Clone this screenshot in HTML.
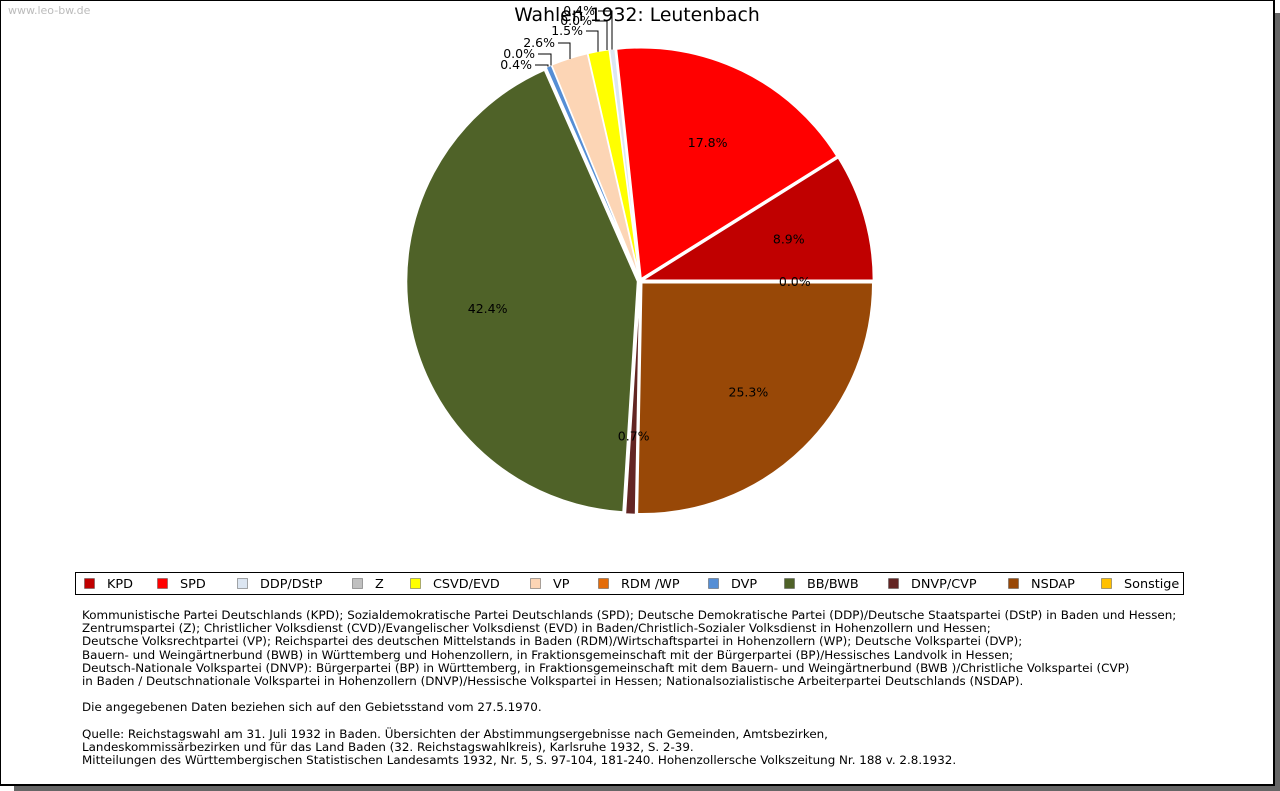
<!DOCTYPE html>
<html><head><meta charset="utf-8">
<style>
body{margin:0;width:1280px;height:791px;background:#fff;position:relative;overflow:hidden;font-family:"DejaVu Sans","Liberation Sans",sans-serif;}
#frame{position:absolute;left:0;top:0;width:1272px;height:783px;border:1px solid #000;border-width:1px 2px 2px 1px;background:#fff;}
#shr{position:absolute;left:1275px;top:13px;width:5px;height:778px;background:#666;}
#shb{position:absolute;left:14px;top:786px;width:1266px;height:5px;background:#666;}
#wm{position:absolute;left:8px;top:4px;font-size:11px;color:#bbb;}
#notes{position:absolute;left:82px;top:609px;font-size:11.9px;line-height:13.2px;color:#000;white-space:pre;}
</style></head><body>
<div id="shr"></div>
<div id="shb"></div>
<div id="frame"></div>
<div id="wm">www.leo-bw.de</div>
<svg id="chart" width="1280" height="791" style="position:absolute;left:0;top:0">
<text x="637" y="21" font-size="18.8" text-anchor="middle" font-family="DejaVu Sans,sans-serif">Wahlen 1932: Leutenbach</text>
<g id="slices"></g><g id="labels"></g>
<rect x="75.5" y="572.5" width="1108" height="22" fill="#fff" stroke="#000"/>
<g id="legend"></g>
</svg>
<div id="notes">Kommunistische Partei Deutschlands (KPD); Sozialdemokratische Partei Deutschlands (SPD); Deutsche Demokratische Partei (DDP)/Deutsche Staatspartei (DStP) in Baden und Hessen;
Zentrumspartei (Z); Christlicher Volksdienst (CVD)/Evangelischer Volksdienst (EVD) in Baden/Christlich-Sozialer Volksdienst in Hohenzollern und Hessen;
Deutsche Volksrechtpartei (VP); Reichspartei des deutschen Mittelstands in Baden (RDM)/Wirtschaftspartei in Hohenzollern (WP); Deutsche Volkspartei (DVP);
Bauern- und Weingärtnerbund (BWB) in Württemberg und Hohenzollern, in Fraktionsgemeinschaft mit der Bürgerpartei (BP)/Hessisches Landvolk in Hessen;
Deutsch-Nationale Volkspartei (DNVP): Bürgerpartei (BP) in Württemberg, in Fraktionsgemeinschaft mit dem Bauern- und Weingärtnerbund (BWB )/Christliche Volkspartei (CVP)
in Baden / Deutschnationale Volkspartei in Hohenzollern (DNVP)/Hessische Volkspartei in Hessen; Nationalsozialistische Arbeiterpartei Deutschlands (NSDAP).

Die angegebenen Daten beziehen sich auf den Gebietsstand vom 27.5.1970.

Quelle: Reichstagswahl am 31. Juli 1932 in Baden. Übersichten der Abstimmungsergebnisse nach Gemeinden, Amtsbezirken,
Landeskommissärbezirken und für das Land Baden (32. Reichstagswahlkreis), Karlsruhe 1932, S. 2-39.
Mitteilungen des Württembergischen Statistischen Landesamts 1932, Nr. 5, S. 97-104, 181-240. Hohenzollersche Volkszeitung Nr. 188 v. 2.8.1932.</div>
<script>
const parties=["KPD","SPD","DDP/DStP","Z","CSVD/EVD","VP","RDM /WP","DVP","BB/BWB","DNVP/CVP","NSDAP","Sonstige"];
const values=[8.9,17.8,0.4,0.0,1.5,2.6,0.0,0.4,42.4,0.7,25.3,0.0];
const colors=["#c00000","#ff0000","#dce6f2","#c0c0c0","#ffff00","#fcd5b5","#e46c0a","#558ed5","#4f6228","#632523","#984807","#ffc000"];
const NS="http://www.w3.org/2000/svg";
const cx=640,cy=281,R=231;
const total=values.reduce((a,b)=>a+b,0);
const gS=document.getElementById('slices'),gL=document.getElementById('labels'),gLeg=document.getElementById('legend');
const outside={2:[595,15,612],3:[592,25,607],4:[583,35,598],5:[555,47,570],6:[535,58,551],7:[532,69,548]};
function pt(a,r){return [cx+r*Math.cos(a),cy-r*Math.sin(a)];}
let acc=0;
values.forEach((v,i)=>{
  const a0=acc/total*2*Math.PI;acc+=v;const a1=acc/total*2*Math.PI;const am=(a0+a1)/2;
  const ox=2.5*Math.cos(am),oy=-2.5*Math.sin(am);
  if(v>0){
    const p0=pt(a0,R),p1=pt(a1,R);
    const p=document.createElementNS(NS,'path');
    p.setAttribute('d',`M${cx+ox},${cy+oy}L${p0[0]+ox},${p0[1]+oy}A${R},${R} 0 ${a1-a0>Math.PI?1:0} 0 ${p1[0]+ox},${p1[1]+oy}Z`);
    p.setAttribute('fill',colors[i]);p.setAttribute('stroke','#fff');p.setAttribute('stroke-width','1.5');
    
    
    gS.appendChild(p);
  }
  const t=document.createElementNS(NS,'text');
  t.setAttribute('font-size','12.5');
  t.textContent=v.toFixed(1)+'%';
  if(outside[i]){
    const o=outside[i];const e=pt(am,R+2);
    t.setAttribute('x',o[0]);t.setAttribute('y',o[1]);t.setAttribute('text-anchor','end');
    const l=document.createElementNS(NS,'polyline');
    l.setAttribute('points',`${o[0]+3},${o[1]-4} ${o[2]},${o[1]-4} ${o[2]},${e[1]}`);
    l.setAttribute('fill','none');l.setAttribute('stroke','#000');
    
    
    gL.appendChild(l);
  }else{
    const q=pt(am,R*0.67);
    t.setAttribute('x',q[0]);t.setAttribute('y',q[1]+5);t.setAttribute('text-anchor','middle');
  }
  
  
  gL.appendChild(t);
});
const legX=[84,157,237,352,410,530,598,708,784,888,1008,1101];
parties.forEach((n,i)=>{
  const g=document.createElementNS(NS,'g');
  
  
  const r=document.createElementNS(NS,'rect');
  r.setAttribute('x',legX[i]+0.5);r.setAttribute('y',578.5);r.setAttribute('width',10);r.setAttribute('height',10);
  r.setAttribute('fill',colors[i]);r.setAttribute('stroke','#555');r.setAttribute('stroke-width','0.5');
  const t=document.createElementNS(NS,'text');
  t.setAttribute('x',legX[i]+23);t.setAttribute('y',588);t.setAttribute('font-size','12.8');t.textContent=n;
  g.appendChild(r);g.appendChild(t);gLeg.appendChild(g);
});
</script>
</body></html>
